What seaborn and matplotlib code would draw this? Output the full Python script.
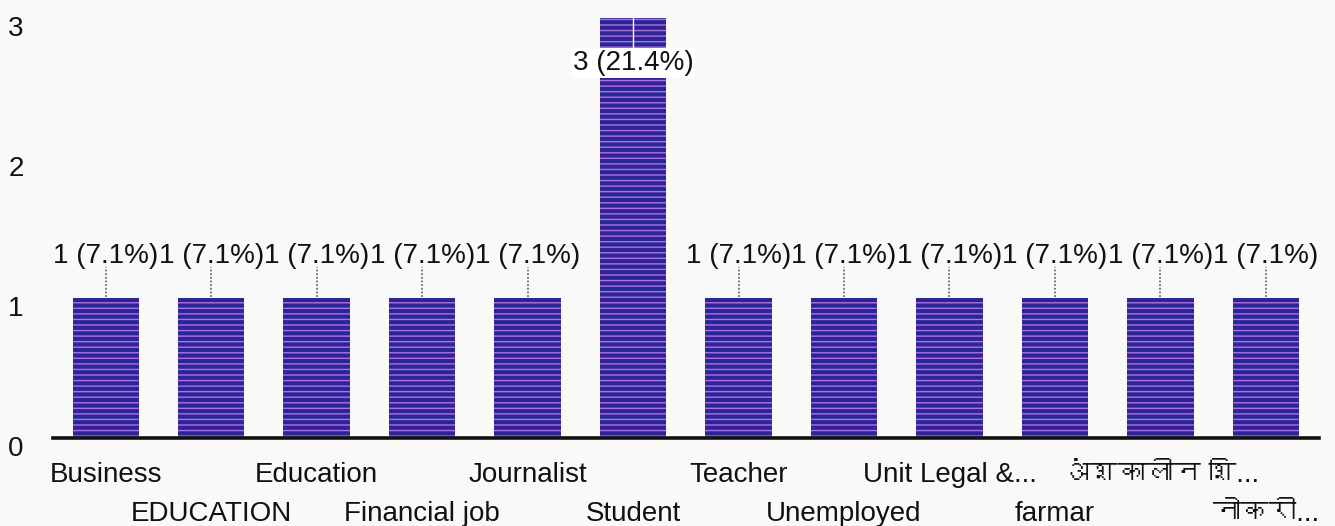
import matplotlib
matplotlib.use("Agg")
import matplotlib.pyplot as plt
from matplotlib import font_manager, ft2font
from matplotlib.transforms import ScaledTranslation
import seaborn as sns

# Occupation responses
categories = ["Business", "EDUCATION", "Education", "Financial job", "Journalist",
              "Student", "Teacher", "Unemployed", "Unit Legal &...", "farmar",
              "अंशकालीन शि...", "नोकरी..."]
counts = [1, 1, 1, 1, 1, 3, 1, 1, 1, 1, 1, 1]
y_ticks = [0, 1, 2, 3]

total = sum(counts)
value_labels = [f"{c} ({c / total * 100:.1f}%)" for c in counts]


def devanagari_families():
    """Installed families that contain Devanagari glyphs."""
    found = []
    for entry in font_manager.fontManager.ttflist:
        try:
            cmap = ft2font.FT2Font(entry.fname).get_charmap()
        except Exception:
            continue
        if 0x0915 in cmap and entry.name not in found:
            found.append(entry.name)
    return found


sns.set_theme(style="white")
plt.rcParams["font.family"] = ["Liberation Sans"] + devanagari_families() + ["DejaVu Sans"]
plt.rcParams["hatch.linewidth"] = 1.0

bg = "#f9f9f7"
bar_face = "#2c2596"
stripe = "#b070e4"
ink = "#111111"
fs = 20

fig = plt.figure(figsize=(13.35, 5.26), dpi=100, facecolor=bg)
ax = fig.add_axes([0.0397, 0.167, 0.948, 0.8327])
ax.set_facecolor(bg)

sns.barplot(x=categories, y=counts, color=bar_face, width=0.63,
            saturation=1, ax=ax)

for patch in ax.patches:
    patch.set_hatch("---")
    patch.set_edgecolor(stripe)
    patch.set_linewidth(0)

ax.set_xlim(-0.5, len(categories) - 0.5)
ax.set_ylim(0, 3.13)
ax.set_xlabel("")
ax.set_ylabel("")

# Value annotations: above short bars with a dotted leader, inside the tall bar
for i, (c, lab) in enumerate(zip(counts, value_labels)):
    if c < max(counts):
        ax.plot([i, i], [c + 0.01, c + 0.22], color="#555555", lw=1.1,
                ls=(0, (1.2, 1.2)), zorder=3)
        ax.text(i, c + 0.25, lab, ha="center", va="baseline",
                fontsize=fs, color=ink, zorder=4)
    else:
        ax.plot([i, i], [c, c - 0.24], color="white", lw=1.0, zorder=3)
        ax.text(i, c - 0.37, lab, ha="center", va="baseline",
                fontsize=fs, color=ink, zorder=4,
                bbox=dict(facecolor="white", edgecolor="none", pad=1.5))

# Axes styling
for side in ("left", "right", "top"):
    ax.spines[side].set_visible(False)
ax.spines["bottom"].set_color("#111111")
ax.spines["bottom"].set_linewidth(2.6)
ax.grid(False)

ax.set_yticks(y_ticks)
ax.set_yticklabels([str(t) for t in y_ticks])
ax.tick_params(axis="y", length=0, pad=21, labelsize=fs, labelcolor=ink)
shift = ScaledTranslation(0, -8 / 100, fig.dpi_scale_trans)
for lab in ax.get_yticklabels():
    lab.set_transform(lab.get_transform() + shift)

ax.set_xticks(range(len(categories)))
ax.set_xticklabels(categories)
ax.tick_params(axis="x", length=0, labelsize=fs, labelcolor=ink)
for i, tick in enumerate(ax.xaxis.get_major_ticks()):
    tick.set_pad(17 if i % 2 == 0 else 45)

fig.savefig("out.png", dpi=100, facecolor=bg)
